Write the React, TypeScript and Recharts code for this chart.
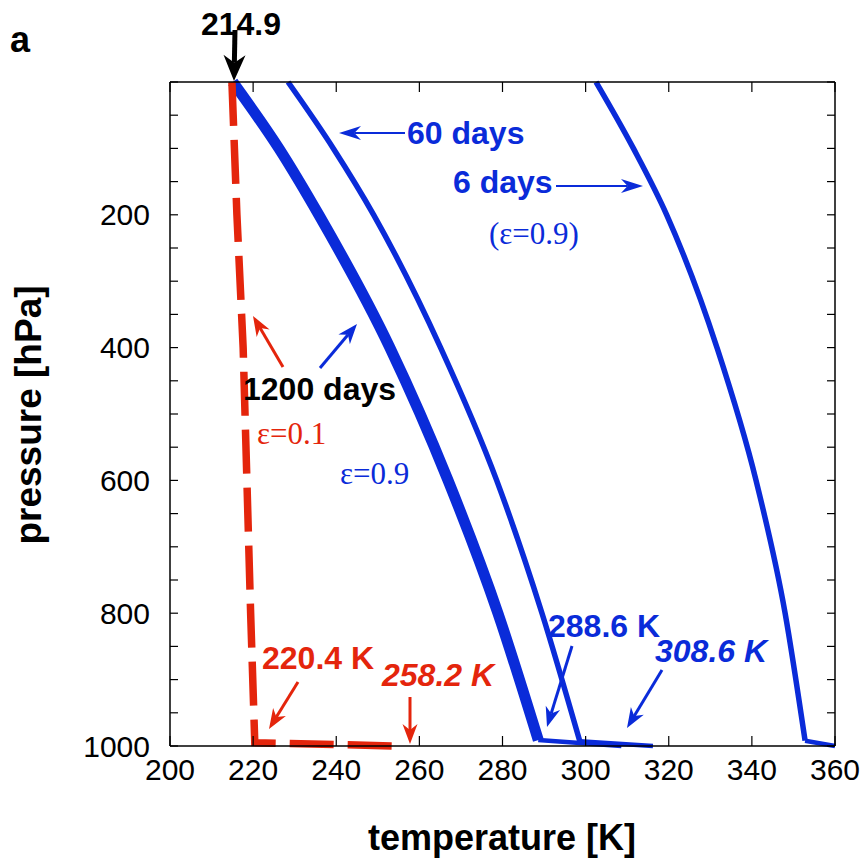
import React from "react";
import { LineChart, Line, XAxis, YAxis } from "recharts";

// temperature [K] / pressure [hPa] profiles
const RED_EPS01: [number, number][] = [
  [214.9, 0], [215.5, 100], [216.1, 200], [217.6, 400], [218.5, 600], [219.4, 800], [220.4, 995], [254.5, 1000],
];
const BLUE_1200D: [number, number][] = [
  [215.1, 0], [226.2, 100], [235.8, 200], [252.9, 400], [266.9, 600], [278.9, 800], [288.6, 991],
];
const BLUE_1200D_SFC: [number, number][] = [[288.6, 991], [308.6, 1000]];
const BLUE_60D: [number, number][] = [
  [228.4, 0], [239.3, 100], [249.0, 200], [265.1, 400], [278.6, 600], [289.5, 800], [298.6, 993],
];
const BLUE_60D_SFC: [number, number][] = [[298.6, 993], [316.2, 1000]];
const BLUE_6D: [number, number][] = [
  [302.5, 0], [311.5, 100], [319.5, 200], [331.6, 400], [341.0, 600], [348.0, 800], [352.8, 992],
];
const BLUE_6D_SFC: [number, number][] = [[352.8, 992], [360, 1000]];

const X_TICKS = [200, 220, 240, 260, 280, 300, 320, 340, 360];
const Y_TICKS = [0, 50, 100, 150, 200, 250, 300, 350, 400, 450, 500, 550, 600, 650, 700, 750, 800, 850, 900, 950, 1000];

const RED = "#e4250c";
const BLUE = "#0a2bd9";
const SANS = "'Liberation Sans', Arial, Helvetica, sans-serif";
const SERIF = "'Liberation Serif', 'Times New Roman', serif";

const rows = (pts: [number, number][]) => pts.map(([t, p]) => ({ t, p }));

function Arrow({ x1, y1, x2, y2, color, w = 3, head = 20, hw = 15 }: any) {
  const len = Math.hypot(x2 - x1, y2 - y1);
  const ux = (x2 - x1) / len;
  const uy = (y2 - y1) / len;
  const nx = -uy;
  const ny = ux;
  const bx = x2 - ux * head;
  const by = y2 - uy * head;
  const kx = x2 - ux * head * 0.7;
  const ky = y2 - uy * head * 0.7;
  return (
    <g>
      <line x1={x1} y1={y1} x2={kx} y2={ky} stroke={color} strokeWidth={w} />
      <polygon
        points={`${x2},${y2} ${bx + (nx * hw) / 2},${by + (ny * hw) / 2} ${kx},${ky} ${bx - (nx * hw) / 2},${by - (ny * hw) / 2}`}
        fill={color}
      />
    </g>
  );
}

function Annotations() {
  const bold = { fontFamily: SANS, fontWeight: 700, fontSize: 32 };
  const serif = { fontFamily: SERIF, fontSize: 31 };
  return (
    <svg width={861} height={865} style={{ position: "absolute", left: 0, top: 0, pointerEvents: "none" }}>
      <text x={10} y={52} style={{ ...bold, fontSize: 36 }} fill="#000">a</text>
      <text x={241} y={35} textAnchor="middle" style={bold} fill="#000">214.9</text>
      <Arrow x1={235} y1={30} x2={234} y2={81} color="#000" w={5} head={26} hw={22} />

      <text x={407} y={144} style={bold} fill={BLUE}>60 days</text>
      <Arrow x1={405} y1={133} x2={339} y2={133} color={BLUE} w={2} head={22} hw={14} />
      <text x={453} y={193} style={bold} fill={BLUE}>6 days</text>
      <Arrow x1={556} y1={186} x2={643} y2={186} color={BLUE} w={2} head={22} hw={14} />
      <text x={489} y={244} style={serif} fill={BLUE}>(ε=0.9)</text>

      <Arrow x1={283} y1={367} x2={253} y2={316} color={RED} w={3} />
      <Arrow x1={320} y1={368} x2={357} y2={324} color={BLUE} w={3} />
      <text x={243} y={400} style={bold} fill="#000">1200 days</text>
      <text x={257} y={444} style={serif} fill={RED}>ε=0.1</text>
      <text x={340} y={484} style={serif} fill={BLUE}>ε=0.9</text>

      <text x={548} y={637} style={bold} fill={BLUE}>288.6 K</text>
      <Arrow x1={572} y1={646} x2={547} y2={727} color={BLUE} w={3} />
      <text x={655} y={662} style={{ ...bold, fontStyle: "italic" }} fill={BLUE}>308.6 K</text>
      <Arrow x1={662} y1={670} x2={627} y2={728} color={BLUE} w={3} />
      <text x={262} y={669} style={bold} fill={RED}>220.4 K</text>
      <Arrow x1={298} y1={682} x2={269} y2={729} color={RED} w={3} />
      <text x={382} y={686} style={{ ...bold, fontStyle: "italic" }} fill={RED}>258.2 K</text>
      <Arrow x1={410} y1={697} x2={410} y2={744} color={RED} w={3} />

      <text x={502} y={850} textAnchor="middle" style={{ ...bold, fontSize: 36 }} fill="#000">
        temperature [K]
      </text>
      <text
        x={0}
        y={0}
        transform="translate(41,415) rotate(-90)"
        textAnchor="middle"
        style={{ ...bold, fontSize: 37 }}
        fill="#000"
      >
        pressure [hPa]
      </text>
    </svg>
  );
}

export default function App() {
  const axisLine = { stroke: "#000", strokeWidth: 1.5 };
  const tickLine = { stroke: "#000", strokeWidth: 1.2 };
  const tickStyle = { fill: "#000", fontSize: 30, fontFamily: SANS };
  const yLabel = (v: number) => (v % 200 === 0 && v !== 0 ? String(v) : "");
  const blank = () => "";
  const common = { dot: false, activeDot: false, isAnimationActive: false, dataKey: "p" } as const;

  return (
    <div style={{ position: "absolute", left: 0, top: 0, width: 861, height: 865, background: "#fff" }}>
      <LineChart width={861} height={865} margin={{ top: 81, right: 25, bottom: 0, left: 0 }}>
        <XAxis
          dataKey="t"
          type="number"
          domain={[200, 360]}
          ticks={X_TICKS}
          height={119}
          axisLine={axisLine}
          tickLine={tickLine}
          tickSize={-10}
          tickMargin={23}
          tick={tickStyle}
          interval={0}
        />
        <XAxis
          xAxisId="top"
          dataKey="t"
          orientation="top"
          type="number"
          domain={[200, 360]}
          ticks={X_TICKS}
          height={1}
          axisLine={axisLine}
          tickLine={tickLine}
          tickSize={-10}
          tickFormatter={blank}
          interval={0}
        />
        <YAxis
          dataKey="p"
          type="number"
          domain={[0, 1000]}
          reversed
          ticks={Y_TICKS}
          width={170}
          axisLine={axisLine}
          tickLine={tickLine}
          tickSize={-8}
          tickMargin={28}
          tick={tickStyle}
          tickFormatter={yLabel}
          interval={0}
        />
        <YAxis
          yAxisId="right"
          dataKey="p"
          orientation="right"
          type="number"
          domain={[0, 1000]}
          reversed
          ticks={Y_TICKS}
          width={1}
          axisLine={axisLine}
          tickLine={tickLine}
          tickSize={-8}
          tickFormatter={blank}
          interval={0}
        />
        {/* the 6-day profile is bound to the top/right axes (same scales) so they get drawn */}
        <Line {...common} xAxisId="top" yAxisId="right" data={rows(BLUE_6D)} type="monotone" stroke={BLUE} strokeWidth={5.5} />
        <Line {...common} xAxisId="top" yAxisId="right" data={rows(BLUE_6D_SFC)} type="linear" stroke={BLUE} strokeWidth={4.5} />
        <Line {...common} data={rows(BLUE_60D)} type="monotone" stroke={BLUE} strokeWidth={5.5} />
        <Line {...common} data={rows(BLUE_60D_SFC)} type="linear" stroke={BLUE} strokeWidth={4.5} />
        <Line {...common} data={rows(BLUE_1200D)} type="monotone" stroke={BLUE} strokeWidth={11} />
        <Line {...common} data={rows(BLUE_1200D_SFC)} type="linear" stroke={BLUE} strokeWidth={4.5} />
        <Line {...common} data={rows(RED_EPS01)} type="linear" stroke={RED} strokeWidth={7.5} strokeDasharray="44 14" />
      </LineChart>
      <Annotations />
    </div>
  );
}
